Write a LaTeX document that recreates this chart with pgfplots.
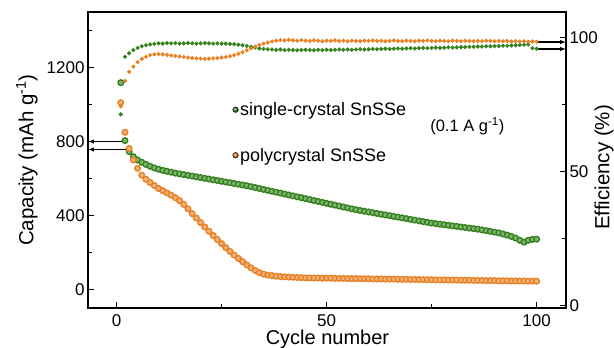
\documentclass[border=0pt]{standalone}
\usepackage{fontspec}
\setmainfont{Liberation Sans}
\usepackage{pgfplots}
\usepackage{pgfplotstable}
\pgfplotsset{compat=1.18}
\usetikzlibrary{arrows.meta}
\definecolor{cg}{RGB}{52,130,28}
\definecolor{co}{RGB}{232,128,36}

\pgfplotstableread{
cyc capG capO effG effO
1 1118 1010 71.5 74.5
2 805 850 93.0 84.0
3 745 762 94.3 87.4
4 718 700 95.5 89.3
5 700 655 96.3 91.0
6 688 618 96.9 92.2
7 676 596 97.3 93.0
8 666 578 97.6 93.6
9 657 562 97.8 93.9
10 650 546 98.0 94.0
11 644 534 97.9 93.9
12 639 522 98.1 93.7
13 634 510 98.0 93.5
14 629 496 98.1 93.3
15 625 480 97.9 93.1
16 621 460 98.0 92.9
17 617 436 98.1 92.7
18 613 410 98.0 92.5
19 609 386 97.9 92.4
20 605 362 98.0 92.3
21 601 338 98.1 92.2
22 597 315 98.0 92.3
23 593 292 97.9 92.4
24 589 270 98.0 92.5
25 585 248 97.9 92.7
26 581 226 97.9 92.9
27 577 206 97.8 93.2
28 573 186 97.7 93.6
29 569 168 97.5 94.1
30 565 150 97.3 94.7
31 561 133 97.0 95.4
32 556 117 96.7 96.1
33 551 103 96.4 96.8
34 546 91 96.1 97.4
35 541 83 95.9 97.9
36 536 78 95.8 98.3
37 531 75 95.7 98.7
38 526 72 95.6 99.0
39 521 70 95.7 99.2
40 516 68 95.5 99.1
41 511 67 95.6 99.3
42 506 66 95.5 99.1
43 501 65 95.4 99.0
44 496 64 95.5 99.2
45 491 63 95.6 99.0
46 486 63 95.5 98.9
47 481 62 95.4 99.1
48 476 62 95.6 99.0
49 471 61 95.5 98.8
50 466 61 95.6 99.0
51 461 61 95.5 98.9
52 456 60 95.6 99.1
53 451 60 95.7 98.9
54 446 60 95.6 99.0
55 441 59 95.7 98.8
56 436 59 95.6 99.0
57 431 59 95.7 98.9
58 427 58 95.8 98.8
59 423 58 95.7 99.0
60 419 58 95.8 98.9
61 415 57 95.9 99.1
62 411 57 95.8 98.9
63 407 57 95.9 99.0
64 403 56 96.0 98.8
65 399 56 95.9 98.9
66 395 56 96.0 99.1
67 391 55 96.1 98.9
68 387 55 96.0 98.8
69 383 55 96.1 99.0
70 379 54 96.2 98.9
71 375 54 96.1 98.8
72 371 54 96.2 99.0
73 367 53 96.3 98.9
74 363 53 96.2 99.1
75 359 53 96.3 98.9
76 356 52 96.4 98.8
77 353 52 96.3 99.0
78 350 52 96.4 98.9
79 347 51 96.5 98.8
80 344 51 96.4 99.0
81 341 51 96.5 98.9
82 338 50 96.6 98.8
83 335 50 96.6 99.0
84 332 50 96.7 98.9
85 329 49 96.7 98.8
86 326 49 96.8 98.9
87 322 49 96.8 98.8
88 318 48 96.9 99.0
89 314 48 96.9 98.9
90 310 48 97.0 98.8
91 306 47 97.0 98.9
92 300 47 97.1 98.8
93 294 47 97.1 98.9
94 287 46 97.2 98.7
95 278 46 97.3 98.8
96 266 46 97.4 98.7
97 256 46 97.5 98.8
98 266 45 97.6 98.6
99 271 45 96.2 98.7
100 272 45 96.0 98.6
}\datatable

\begin{document}
\begin{tikzpicture}
\path[use as bounding box] (-88pt,-40pt) rectangle (526pt,308pt);
\begin{axis}[
  at={(0pt,0pt)}, anchor=south west,
  scale only axis, width=478pt, height=296pt,
  xmin=-6.8, xmax=107, ymin=-100, ymax=1500,
  xtick={0,50,100}, minor xtick={25,75},
  ytick={0,400,800,1200}, minor ytick={200,600,1000,1400},
  xtick pos=bottom, ytick pos=left, tick align=inside,
  major tick length=6pt, minor tick length=4pt,
  axis line style={line width=1.2pt},
  every tick/.style={black, line width=1pt},
  tick label style={font=\fontsize{17}{20}\selectfont},
  /pgf/number format/assume math mode=true,
  /pgf/number format/set thousands separator={},
  xticklabel style={anchor=base, yshift=-19pt},
  xlabel={Cycle number},
  ylabel={Capacity (mAh g\textsuperscript{-1})},
  every axis x label/.style={at={(axis description cs:0.501,-0.123)}, anchor=base, font=\fontsize{20}{24}\selectfont},
  every axis y label/.style={at={(axis description cs:-0.128,0.5)}, rotate=90, anchor=center, font=\fontsize{20.5}{24}\selectfont},
  legend style={at={(axis description cs:0.302,0.593)}, anchor=west, draw=none, fill=none,
    inner sep=0pt, font=\fontsize{18}{21}\selectfont, row sep=29pt,
    nodes={inner xsep=1.5pt, inner ysep=1pt}},
  legend cell align=left,
]
\addlegendimage{only marks, mark=ball, mark size=2.8pt, mark options={ball color=cg}}
\addlegendentry{single-crystal SnSSe}
\addlegendimage{only marks, mark=ball, mark size=2.8pt, mark options={ball color=co}}
\addlegendentry{polycrystal SnSSe}
\addplot[forget plot, only marks, mark=*, mark size=2.8pt, mark options={draw=cg, fill=cg!60!white, line width=1.4pt}]
  table[x=cyc, y=capG] {\datatable};
\addplot[forget plot, only marks, mark=*, mark size=2.8pt, mark options={draw=co, fill=co!60!white, line width=1.4pt}]
  table[x=cyc, y=capO] {\datatable};
\draw[line width=1.1pt, -{Latex[length=6pt,width=4.5pt]}] (axis cs:2.2,800) -- (axis cs:-6.8,800);
\draw[line width=1.1pt, -{Latex[length=6pt,width=4.5pt]}] (axis cs:3.2,757) -- (axis cs:-6.8,757);
\node[font=\fontsize{16.5}{20}\selectfont] at (axis cs:83.5,881) {(0.1 A g\textsuperscript{-1})};
\end{axis}
\begin{axis}[
  at={(0pt,0pt)}, anchor=south west,
  scale only axis, width=478pt, height=296pt,
  xmin=-6.8, xmax=107, ymin=-0.75, ymax=109.7,
  axis x line=none, axis y line*=right,
  ytick={0,50,100}, minor ytick={25,75},
  tick align=inside,
  major tick length=6pt, minor tick length=4pt,
  axis line style={line width=1.2pt},
  every tick/.style={black, line width=1pt},
  tick label style={font=\fontsize{17}{20}\selectfont},
  /pgf/number format/assume math mode=true,
  ylabel={Efficiency (\%)},
  every axis y label/.style={at={(axis description cs:1.0795,0.475)}, rotate=90, anchor=center, font=\fontsize{20.5}{24}\selectfont},
]
\addplot[only marks, mark=*, mark size=1.9pt, color=cg, mark options={draw=none, fill=cg}]
  table[x=cyc, y=effG] {\datatable};
\addplot[only marks, mark=*, mark size=1.9pt, color=co, mark options={draw=none, fill=co}]
  table[x=cyc, y=effO] {\datatable};
\draw[line width=1.1pt, -{Latex[length=6pt,width=4.5pt]}] (axis cs:100.3,98.5) -- (axis cs:107,98.5);
\draw[line width=1.1pt, -{Latex[length=6pt,width=4.5pt]}] (axis cs:100.3,95.9) -- (axis cs:107,95.9);
\end{axis}
\end{tikzpicture}
\end{document}
